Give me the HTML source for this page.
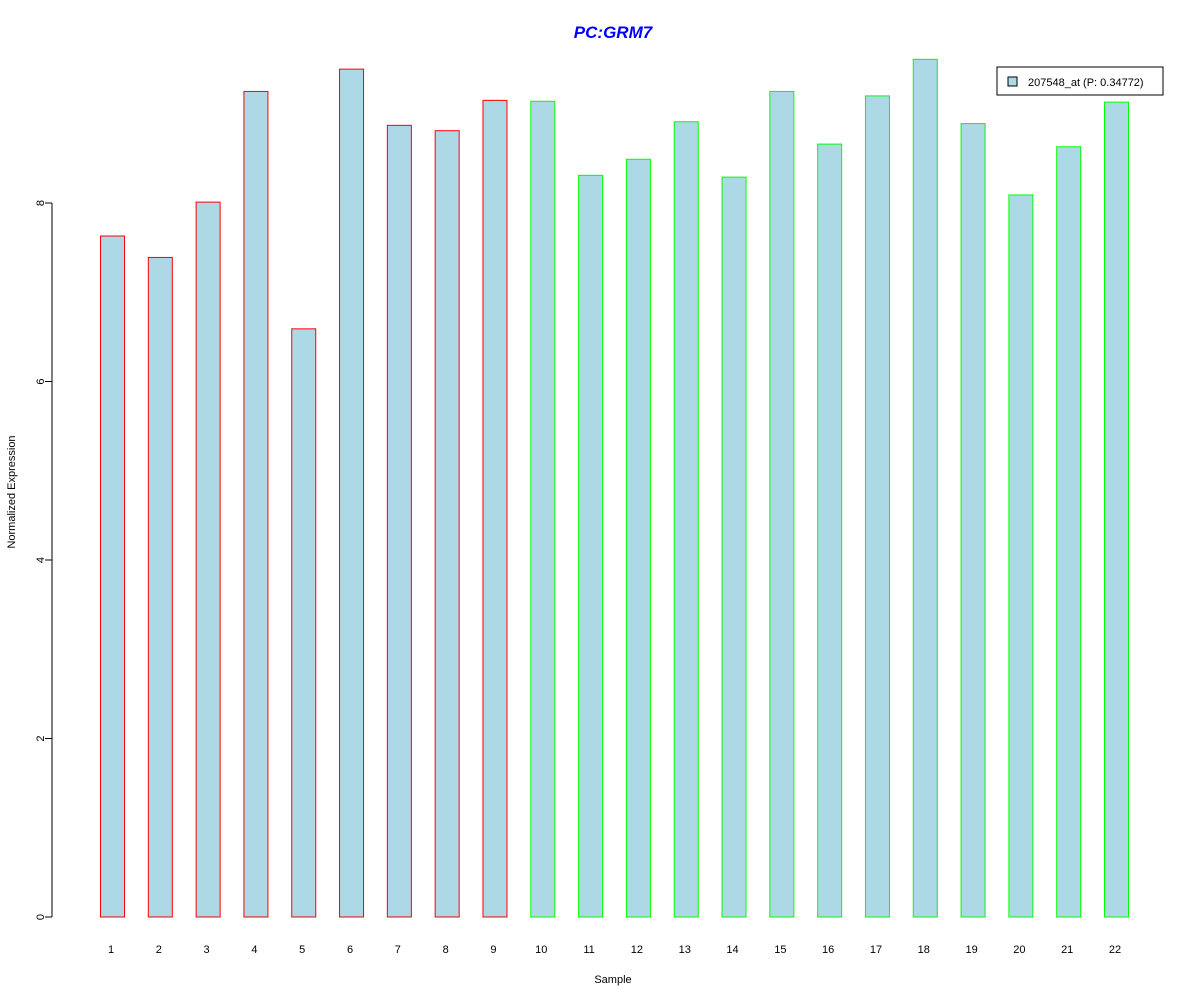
<!DOCTYPE html>
<html><head><meta charset="utf-8"><style>
body{margin:0;background:#fff;}
svg text{font-family:"Liberation Sans",sans-serif;}
</style></head><body>
<svg id="chart" width="1200" height="1000" xmlns="http://www.w3.org/2000/svg">
<rect width="1200" height="1000" fill="#fff"/>
<text x="613" y="38" text-anchor="middle" font-size="17" font-weight="bold" font-style="italic" fill="#0000ff">PC:GRM7</text>
<text transform="translate(15,492) rotate(-90)" text-anchor="middle" font-size="11">Normalized Expression</text>
<text x="613" y="983" text-anchor="middle" font-size="11">Sample</text>
<g id="axis"></g>
<g id="bars"></g>
<g id="xlabels"></g>
<g>
<rect x="997" y="67" width="166" height="28" fill="#fff" stroke="#000"/>
<rect x="1008" y="77" width="9" height="9" fill="#add8e6" stroke="#000"/>
<text x="1028" y="86" font-size="11">207548_at (P: 0.34772)</text>
</g>
</svg>
<script>
const categories=["1","2","3","4","5","6","7","8","9","10","11","12","13","14","15","16","17","18","19","20","21","22"];
const values=[7.63,7.39,8.01,9.25,6.59,9.50,8.87,8.81,9.15,9.14,8.31,8.49,8.91,8.29,9.25,8.66,9.20,9.61,8.89,8.09,8.63,9.13];
const groups=["a","a","a","a","a","a","a","a","a","b","b","b","b","b","b","b","b","b","b","b","b","b"];
const yTicks=[0,2,4,6,8];
const NS="http://www.w3.org/2000/svg";
function y(v){return 917-v*89.25;}
function x(i){return 100+i*47.81;}
function mk(t,a,p){const e=document.createElementNS(NS,t);for(const k in a)e.setAttribute(k,a[k]);p.appendChild(e);return e;}
const ax=document.getElementById('axis');
mk('line',{x1:52,x2:52,y1:y(0),y2:y(yTicks[yTicks.length-1]),stroke:'#000'},ax);
yTicks.forEach(t=>{
 const l=mk('line',{x1:45,x2:52,y1:y(t),y2:y(t),stroke:'#000'},ax);
 
 
 const tx=mk('text',{transform:`translate(44,${y(t)}) rotate(-90)`,'text-anchor':'middle','font-size':11},ax);
 tx.textContent=t;
 
 
});
const bg=document.getElementById('bars'),xl=document.getElementById('xlabels');
values.forEach((v,i)=>{
 const r=mk('rect',{x:x(i)+0.5,y:y(v),width:24,height:y(0)-y(v),fill:'#add8e6',stroke:groups[i]==='a'?'#ff0000':'#00ff00'},bg);
 
 
 const t=mk('text',{x:x(i)+11,y:953,'text-anchor':'middle','font-size':11},xl);
 t.textContent=categories[i];
 
 
});
</script>
</body></html>
